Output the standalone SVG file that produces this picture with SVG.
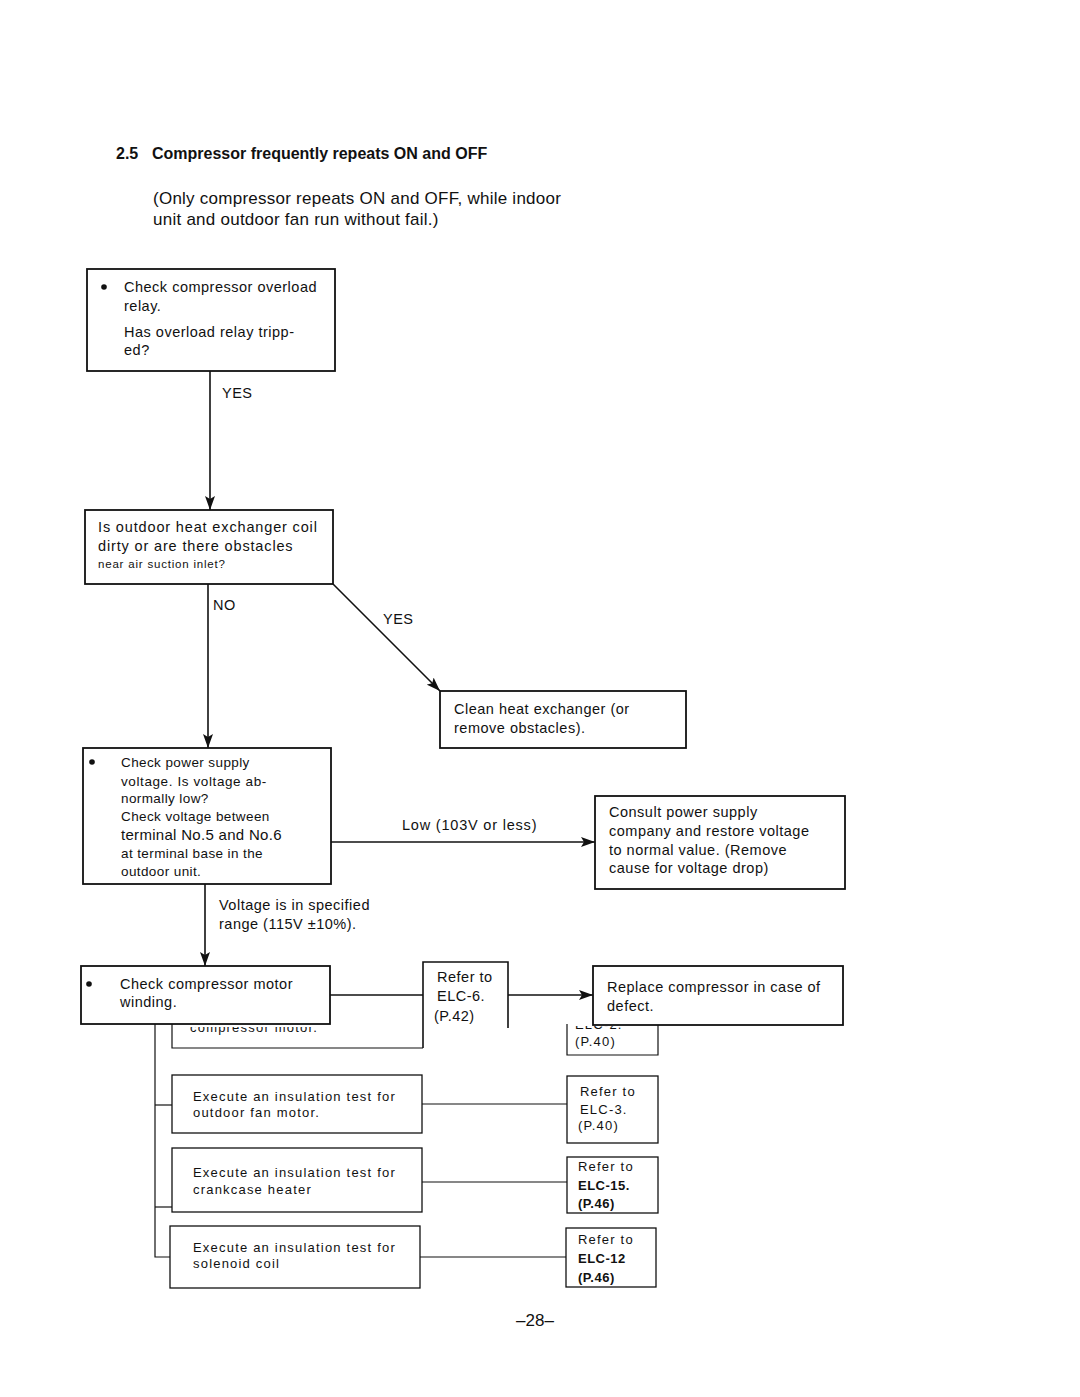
<svg xmlns="http://www.w3.org/2000/svg" width="1080" height="1397" viewBox="0 0 1080 1397">
<style>
text{font-family:"Liberation Sans",Arial,sans-serif;fill:#111}
.t{font-size:14.5px;letter-spacing:0.5px}
.s{font-size:13.5px;letter-spacing:0.4px}
.l{font-size:13px;letter-spacing:1.2px}
.b{font-weight:bold}
.box{fill:#fff;stroke:#111;stroke-width:1.8}
.thin{fill:#fff;stroke:#111;stroke-width:1.3}
.ln{fill:none;stroke:#111;stroke-width:1.6}
.ln2{fill:none;stroke:#111;stroke-width:1.2}
</style>
<defs>
<marker id="ah" viewBox="0 0 14 10" refX="14" refY="5" markerWidth="14" markerHeight="10" markerUnits="userSpaceOnUse" orient="auto">
<path d="M0,0 L14,5 L0,10 L3,5 Z" fill="#111"/>
</marker>
<clipPath id="cl1"><rect x="170" y="1027" width="260" height="30"/></clipPath>
<clipPath id="cl2"><rect x="565" y="1026" width="95" height="30"/></clipPath>
</defs>
<rect width="1080" height="1397" fill="#fff"/>

<g id="title">
<text x="116" y="159" font-size="16" font-weight="bold">2.5</text>
<text x="152" y="159" font-size="16" font-weight="bold">Compressor frequently repeats ON and OFF</text>
<text x="153" y="204" font-size="17" letter-spacing="0.25">(Only compressor repeats ON and OFF, while indoor</text>
<text x="153" y="225" font-size="17" letter-spacing="0.25">unit and outdoor fan run without fail.)</text>
</g>

<!-- overlapped shapes from the page below -->
<g id="hidden-left">
<text x="190" y="1032" class="l" clip-path="url(#cl1)">compressor motor.</text>
<path class="ln2" d="M172,1024 V1048 H423"/>
</g>
<g id="hidden-right">
<text x="575" y="1029" class="l" clip-path="url(#cl2)">ELC-2.</text>
<text x="575" y="1046" class="l">(P.40)</text>
<path class="ln2" d="M567,1024 V1055 H658 V1024"/>
</g>

<g id="connectors">
<line class="ln" x1="210" y1="371" x2="210" y2="510" marker-end="url(#ah)"/>
<line class="ln" x1="208" y1="584" x2="208" y2="748" marker-end="url(#ah)"/>
<line class="ln" x1="333" y1="584" x2="440" y2="691" marker-end="url(#ah)"/>
<line class="ln" x1="331" y1="842" x2="595" y2="842" marker-end="url(#ah)"/>
<line class="ln" x1="205" y1="884" x2="205" y2="966" marker-end="url(#ah)"/>
<line class="ln" x1="330" y1="995" x2="423" y2="995"/>
<line class="ln" x1="508" y1="995" x2="593" y2="995" marker-end="url(#ah)"/>
<path class="ln2" d="M155,1024 V1257 H170"/>
<line class="ln2" x1="155" y1="1105" x2="172" y2="1105"/>
<line class="ln2" x1="155" y1="1207" x2="172" y2="1207"/>
<line class="ln2" x1="422" y1="1104" x2="567" y2="1104"/>
<line class="ln2" x1="422" y1="1182" x2="567" y2="1182"/>
<line class="ln2" x1="420" y1="1257" x2="566" y2="1257"/>
<text x="222" y="398" class="t">YES</text>
<text x="213" y="610" class="t">NO</text>
<text x="383" y="624" class="t">YES</text>
<text x="402" y="830" class="t" style="letter-spacing:0.8px">Low (103V or less)</text>
<text x="219" y="910" class="t">Voltage is in specified</text>
<text x="219" y="929" class="t">range (115V ±10%).</text>
</g>

<g id="n1">
<rect class="box" x="87" y="269" width="248" height="102"/>
<circle cx="104" cy="287" r="2.8" fill="#111"/>
<text x="124" y="292" class="t">Check compressor overload</text>
<text x="124" y="311" class="t">relay.</text>
<text x="124" y="337" class="t">Has overload relay tripp-</text>
<text x="124" y="355" class="t">ed?</text>
</g>

<g id="n2">
<rect class="box" x="85" y="510" width="248" height="74"/>
<text x="98" y="532" class="t" style="letter-spacing:0.85px">Is outdoor heat exchanger coil</text>
<text x="98" y="551" class="t" style="letter-spacing:0.85px">dirty or are there obstacles</text>
<text x="98" y="568" style="font-size:11.5px;letter-spacing:0.8px">near air suction inlet?</text>
</g>

<g id="n3">
<rect class="box" x="440" y="691" width="246" height="57"/>
<text x="454" y="714" class="t">Clean heat exchanger (or</text>
<text x="454" y="733" class="t">remove obstacles).</text>
</g>

<g id="n4">
<rect class="box" x="83" y="748" width="248" height="136"/>
<circle cx="92" cy="762" r="2.8" fill="#111"/>
<text x="121" y="767" class="s">Check power supply</text>
<text x="121" y="786" class="s" style="letter-spacing:0.6px">voltage. Is voltage ab-</text>
<text x="121" y="803" class="s">normally low?</text>
<text x="121" y="821" class="s">Check voltage between</text>
<text x="121" y="840" style="font-size:15px;letter-spacing:0.3px">terminal No.5 and No.6</text>
<text x="121" y="858" class="s">at terminal base in the</text>
<text x="121" y="876" class="s">outdoor unit.</text>
</g>

<g id="n5">
<rect class="box" x="595" y="796" width="250" height="93"/>
<text x="609" y="817" class="t">Consult power supply</text>
<text x="609" y="836" class="t">company and restore voltage</text>
<text x="609" y="855" class="t">to normal value. (Remove</text>
<text x="609" y="873" class="t">cause for voltage drop)</text>
</g>

<g id="n6">
<rect class="box" x="81" y="966" width="249" height="58"/>
<circle cx="89" cy="984" r="2.8" fill="#111"/>
<text x="120" y="989" class="t">Check compressor motor</text>
<text x="120" y="1007" class="t">winding.</text>
</g>

<g id="n7">
<path class="ln" d="M423,1048 V962 H508 V1028"/>
<text x="437" y="982" class="t">Refer to</text>
<text x="437" y="1001" class="t">ELC-6.</text>
<text x="434" y="1021" class="t">(P.42)</text>
</g>

<g id="n8">
<rect class="box" x="593" y="966" width="250" height="59"/>
<text x="607" y="992" class="t">Replace compressor in case of</text>
<text x="607" y="1011" class="t">defect.</text>
</g>

<g id="n9">
<rect class="thin" x="172" y="1075" width="250" height="58"/>
<text x="193" y="1101" class="l">Execute an insulation test for</text>
<text x="193" y="1117" class="l">outdoor fan motor.</text>
</g>
<g id="n10">
<rect class="thin" x="567" y="1076" width="91" height="67"/>
<text x="580" y="1096" class="l">Refer to</text>
<text x="580" y="1114" class="l">ELC-3.</text>
<text x="578" y="1130" class="l">(P.40)</text>
</g>

<g id="n11">
<rect class="thin" x="172" y="1148" width="250" height="64"/>
<text x="193" y="1177" class="l">Execute an insulation test for</text>
<text x="193" y="1194" class="l">crankcase heater</text>
</g>
<g id="n12">
<rect class="thin" x="567" y="1157" width="91" height="56"/>
<text x="578" y="1171" class="l">Refer to</text>
<text x="578" y="1190" class="l b" style="letter-spacing:0.5px">ELC-15.</text>
<text x="578" y="1208" class="l b" style="letter-spacing:0.5px">(P.46)</text>
</g>

<g id="n13">
<rect class="thin" x="170" y="1226" width="250" height="62"/>
<text x="193" y="1252" class="l">Execute an insulation test for</text>
<text x="193" y="1268" class="l">solenoid coil</text>
</g>
<g id="n14">
<rect class="thin" x="566" y="1228" width="90" height="59"/>
<text x="578" y="1244" class="l">Refer to</text>
<text x="578" y="1263" class="l b" style="letter-spacing:0.5px">ELC-12</text>
<text x="578" y="1282" class="l b" style="letter-spacing:0.5px">(P.46)</text>
</g>

<text x="535" y="1326" font-size="17" text-anchor="middle">–28–</text>
</svg>
